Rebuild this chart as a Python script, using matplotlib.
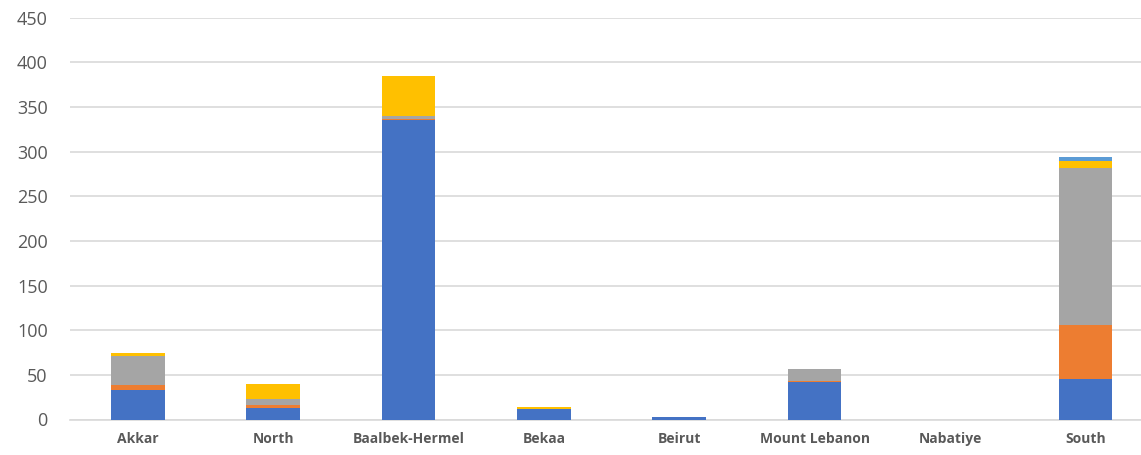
import matplotlib
matplotlib.use("Agg")
import matplotlib.pyplot as plt
import numpy as np

categories = ["Akkar", "North", "Baalbek-Hermel", "Bekaa", "Beirut",
              "Mount Lebanon", "Nabatiye", "South"]
series_1 = [33, 13, 335, 12, 3, 42, 0, 45]
series_2 = [6, 3, 1, 0, 0, 1.5, 0, 61]
series_3 = [32, 7, 3.5, 0, 0, 13, 0, 176]
series_4 = [3, 17, 45, 1.5, 0, 0, 0, 8]
series_5 = [0, 0, 0, 0, 0, 0, 0, 4]
colors = ["#4472C4", "#ED7D31", "#A5A5A5", "#FFC000", "#5B9BD5"]
y_ticks = list(range(0, 451, 50))

plt.rcParams['font.family'] = ['Open Sans', 'DejaVu Sans']

fig = plt.figure(figsize=(11.41, 4.55), dpi=100)
ax = fig.add_axes([70 / 1141, 35.5 / 455, 1 - 70 / 1141, 401.8 / 455])

x = np.arange(len(categories))
bottom = np.zeros(len(categories))
for vals, c in zip([series_1, series_2, series_3, series_4, series_5], colors):
    v = np.array(vals, dtype=float)
    ax.bar(x, v, width=0.396, bottom=bottom, color=c, zorder=3,
           edgecolor="none", linewidth=0)
    bottom += v

ax.set_xlim(-0.5, 7.41)
ax.set_ylim(0, 450)
ax.set_yticks(y_ticks)
ax.set_xticks(x)
ax.set_xticklabels(categories, fontsize=10, fontweight="bold", color="#595959")
ax.tick_params(axis="y", labelsize=13, labelcolor="#595959", length=0, pad=16)
ax.tick_params(axis="x", length=0, pad=9)
ax.grid(axis="y", color="#D9D9D9", linewidth=1.2, zorder=0)
for s in ["top", "right", "left"]:
    ax.spines[s].set_visible(False)
ax.spines["bottom"].set_color("#D9D9D9")
ax.spines["bottom"].set_linewidth(1.2)

fig.savefig("out.png", dpi=100)
